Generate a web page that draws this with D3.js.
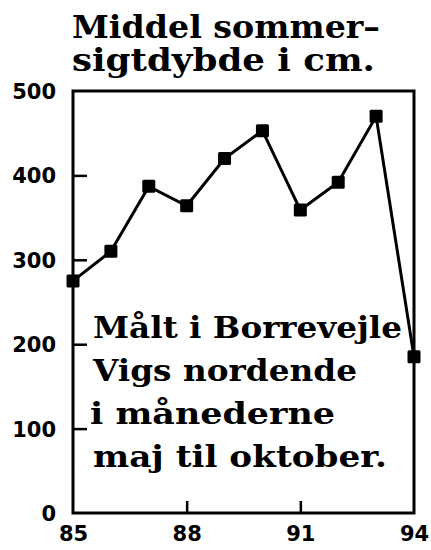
<!DOCTYPE html>
<html>
<head>
<meta charset="utf-8">
<script src="https://cdn.jsdelivr.net/npm/d3@7"></script>
<style>
  body { margin: 0; background: #fff; }
  svg { display: block; }
</style>
</head>
<body>
<div id="chart"></div>
<script>
// data
const years = [85, 86, 87, 88, 89, 90, 91, 92, 93, 94];
const depth = [275, 310, 387, 364, 420, 453, 359, 392, 470, 185];
const yTicks = [0, 100, 200, 300, 400, 500];
const xTicks = [85, 88, 91, 94];
const titleLines = ["Middel sommer\u2013", "sigtdybde i cm."];
const noteLines = ["M\u00e5lt i Borrevejle", "Vigs nordende", "i m\u00e5nederne", "maj til oktober."];

const W = 431, H = 550;
const margin = {top: 91, right: 17, bottom: 37, left: 73};
const width = W - margin.left - margin.right,
    height = H - margin.top - margin.bottom;

const svg = d3.select("#chart").append("svg")
    .attr("width", W)
    .attr("height", H);

const g = svg.append("g")
    .attr("transform", "translate(" + margin.left + "," + margin.top + ")");

const x = d3.scaleLinear().domain([85, 94]).range([0, width]);
const y = d3.scaleLinear().domain([0, 500]).range([height, 0]);

const serif = "'DejaVu Serif', serif";
const sans = "'DejaVu Sans', sans-serif";

// title
const titleW = [308, 303];
svg.selectAll(".title")
    .data(titleLines)
    .enter().append("text")
    .attr("class", "title")
    .attr("x", 72)
    .attr("y", (d, i) => 38 + i * 33)
    .attr("textLength", (d, i) => titleW[i])
    .attr("lengthAdjust", "spacingAndGlyphs")
    .style("font-family", serif)
    .style("font-weight", "bold")
    .style("font-size", "31px")
    .text(d => d);

// frame
g.append("rect")
    .attr("x", 0).attr("y", 0)
    .attr("width", width).attr("height", height)
    .attr("fill", "none")
    .attr("stroke", "#000")
    .attr("stroke-width", 3);

// y axis, ticks pointing inward
const yAxis = d3.axisLeft(y)
    .tickValues(yTicks)
    .tickSizeInner(-14)
    .tickSizeOuter(0)
    .tickPadding(17);
const yg = g.append("g").call(yAxis);
yg.select(".domain").remove();
yg.selectAll(".tick line").attr("stroke-width", 2.5)
    .filter(d => d === 0 || d === 500).remove();
yg.selectAll("text")
    .style("font-family", sans)
    .style("font-weight", "bold")
    .style("font-size", "21px")
    .attr("dy", "0.36em");

// x axis
const xAxis = d3.axisBottom(x)
    .tickValues(xTicks)
    .tickSizeInner(-12)
    .tickSizeOuter(0)
    .tickPadding(13);
const xg = g.append("g")
    .attr("transform", "translate(0," + height + ")")
    .call(xAxis);
xg.select(".domain").remove();
xg.selectAll(".tick line").attr("stroke-width", 2.5)
    .filter(d => d === 85 || d === 94).remove();
xg.selectAll("text")
    .style("font-family", sans)
    .style("font-weight", "bold")
    .style("font-size", "21px")
    .attr("dy", "0.71em");

// note
const noteW = [309, 264, 245, 294];
const noteX = [20, 20, 17, 20];
g.selectAll(".note")
    .data(noteLines)
    .enter().append("text")
    .attr("class", "note")
    .attr("x", (d, i) => noteX[i])
    .attr("y", (d, i) => 247 + i * 43)
    .attr("textLength", (d, i) => noteW[i])
    .attr("lengthAdjust", "spacingAndGlyphs")
    .style("font-family", serif)
    .style("font-weight", "bold")
    .style("font-size", "29px")
    .text(d => d);

// line
const pts = years.map((yr, i) => ({yr: yr, v: depth[i]}));
g.append("path")
    .datum(pts)
    .attr("fill", "none")
    .attr("stroke", "#000")
    .attr("stroke-width", 3)
    .attr("d", d3.line().x(d => x(d.yr)).y(d => y(d.v)));

// square markers
const s = 13;
g.selectAll(".pt")
    .data(pts)
    .enter().append("rect")
    .attr("class", "pt")
    .attr("x", d => x(d.yr) - s / 2)
    .attr("y", d => y(d.v) - s / 2)
    .attr("width", s)
    .attr("height", s)
    .attr("rx", 1.5)
    .attr("fill", "#000");
</script>
</body>
</html>
